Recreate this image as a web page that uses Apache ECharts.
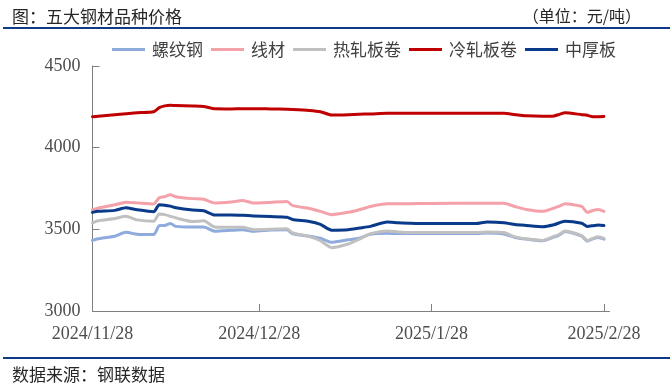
<!DOCTYPE html>
<html>
<head>
<meta charset="utf-8">
<script src="https://cdn.jsdelivr.net/npm/echarts@6/dist/echarts.min.js"></script>
<style>html,body{margin:0;padding:0;background:#fff;}#c{width:670px;height:387px;}</style>
</head>
<body>
<div id="c"></div>
<script>
const dates = ['2024-11-28','2024-11-29','2024-12-02','2024-12-04','2024-12-06','2024-12-09','2024-12-10','2024-12-11','2024-12-12','2024-12-13',
  '2024-12-16','2024-12-18','2024-12-20','2024-12-23','2024-12-25','2024-12-27','2024-12-30','2025-01-02','2025-01-03','2025-01-06',
  '2025-01-08','2025-01-10','2025-01-13','2025-01-15','2025-01-17','2025-01-20','2025-01-22','2025-01-24','2025-01-27','2025-01-28',
  '2025-02-05','2025-02-07','2025-02-10','2025-02-12','2025-02-14','2025-02-17','2025-02-19','2025-02-20','2025-02-21','2025-02-24',
  '2025-02-25','2025-02-26','2025-02-27','2025-02-28'];
const rebar = [3432,3442,3458,3482,3470,3468,3522,3524,3536,3518, 3514,3514,3488,3494,3498,3488,3496,3498,3472,3458,
  3445,3421,3436,3446,3470,3476,3474,3474,3474,3474, 3474,3478,3472,3450,3440,3430,3452,3466,3486,3458, 3428,3442,3450,3440];
const wire = [3620,3630,3650,3666,3662,3655,3694,3700,3712,3700, 3688,3684,3661,3668,3676,3661,3665,3670,3645,3628,
  3610,3590,3604,3620,3640,3656,3656,3657,3658,3658, 3660,3660,3660,3640,3622,3610,3630,3642,3656,3640, 3604,3615,3622,3610];
const hotRolled = [3540,3552,3566,3580,3558,3549,3594,3590,3580,3570, 3548,3552,3514,3512,3512,3498,3500,3504,3478,3456,
  3430,3388,3410,3440,3474,3490,3484,3480,3480,3480, 3480,3484,3480,3454,3442,3432,3456,3470,3490,3462, 3432,3445,3455,3445];
const coldRolled = [4190,4192,4202,4208,4214,4220,4245,4256,4260,4258, 4255,4252,4238,4237,4239,4239,4237,4235,4234,4228,
  4220,4200,4202,4205,4206,4210,4210,4211,4210,4210, 4210,4210,4210,4202,4195,4192,4194,4204,4214,4202, 4198,4190,4190,4191];
const plate = [3604,3610,3616,3632,3620,3608,3650,3648,3642,3632, 3618,3614,3588,3588,3586,3582,3578,3574,3560,3548,
  3530,3495,3498,3508,3518,3545,3540,3538,3536,3536, 3535,3545,3541,3530,3524,3516,3528,3540,3550,3537, 3518,3522,3527,3523];
const seriesNames = ['螺纹钢','线材','热轧板卷','冷轧板卷','中厚板'];
const seriesColors = ['#8FAADC','#F4A1AA','#C0C0C0','#C00000','#0A3A8A'];
const xTickDates = ['2024-11-28','2024-12-28','2025-01-28','2025-02-28'];
const xMin = '2024-11-28', xMax = '2025-03-01';
const yMin = 3000, yMax = 4500, yInterval = 500;

const DAY = 86400000;
function ts(s){ const p = s.split('-').map(Number); return Date.UTC(p[0], p[1]-1, p[2]); }
const t0 = ts(xMin);
function dayOf(s){ return Math.round((ts(s) - t0) / DAY); }
function fmt(v){ const d = new Date(t0 + Math.round(v) * DAY); return d.getUTCFullYear() + '/' + (d.getUTCMonth()+1) + '/' + d.getUTCDate(); }

const values = [rebar, wire, hotRolled, coldRolled, plate];
const CJK = '"Noto Sans CJK SC", sans-serif';
const SERIF = '"Liberation Serif", "Times New Roman", serif';
const chart = echarts.init(document.getElementById('c'), null, {renderer:'canvas'});
chart.setOption({
  animation: false,
  backgroundColor: '#fff',
  title: [
    {text: '图：五大钢材品种价格', left: 7, top: 3, textStyle: {fontFamily: CJK, fontSize: 17, fontWeight: 'normal', color: '#262626'}},
    {text: '（单位：元/吨）', right: 24, top: 3, textStyle: {fontFamily: CJK, fontSize: 16, fontWeight: 'normal', color: '#262626'}},
    {text: '数据来源：钢联数据', left: 7, top: 361, textStyle: {fontFamily: CJK, fontSize: 17, fontWeight: 'normal', color: '#262626'}}
  ],
  graphic: [
    {type: 'rect', shape: {x: 3, y: 27, width: 667, height: 2}, style: {fill: '#0F3A85'}, silent: true},
    {type: 'rect', shape: {x: 3, y: 357, width: 667, height: 2}, style: {fill: '#0F3A85'}, silent: true}
  ],
  legend: {
    left: 107, top: 36,
    icon: 'rect', itemWidth: 33, itemHeight: 3, itemGap: 8,
    textStyle: {fontFamily: CJK, fontSize: 17, color: '#404040', padding: [0,0,0,2]},
    data: seriesNames
  },
  grid: {left: 92.5, right: 60.5, top: 66, bottom: 76, containLabel: false},
  xAxis: {
    type: 'value', min: 0, max: dayOf(xMax),
    axisLine: {show: true, lineStyle: {color: '#7F7F7F', width: 1}},
    axisTick: {show: true, inside: true, length: 7, lineStyle: {color: '#7F7F7F'}, customValues: xTickDates.map(dayOf)},
    axisLabel: {show: true, margin: 14, fontFamily: SERIF, fontSize: 18, color: '#4D4D4D', customValues: xTickDates.map(dayOf), formatter: fmt},
    splitLine: {show: false}
  },
  yAxis: {
    type: 'value', min: yMin, max: yMax, interval: yInterval,
    axisLine: {show: true, lineStyle: {color: '#7F7F7F', width: 1}},
    axisTick: {show: true, inside: true, length: 7, lineStyle: {color: '#7F7F7F'}},
    axisLabel: {margin: 12, fontFamily: SERIF, fontSize: 18, color: '#4D4D4D', formatter: v => String(v)},
    splitLine: {show: false}
  },
  series: seriesNames.map((n, i) => ({
    name: n, type: 'line', symbol: 'none', smooth: 0.2,
    lineStyle: {width: 3, color: seriesColors[i], cap: 'round', join: 'round'},
    itemStyle: {color: seriesColors[i]},
    data: dates.map((d, k) => [dayOf(d), values[i][k]])
  }))
});
</script>
</body>
</html>
